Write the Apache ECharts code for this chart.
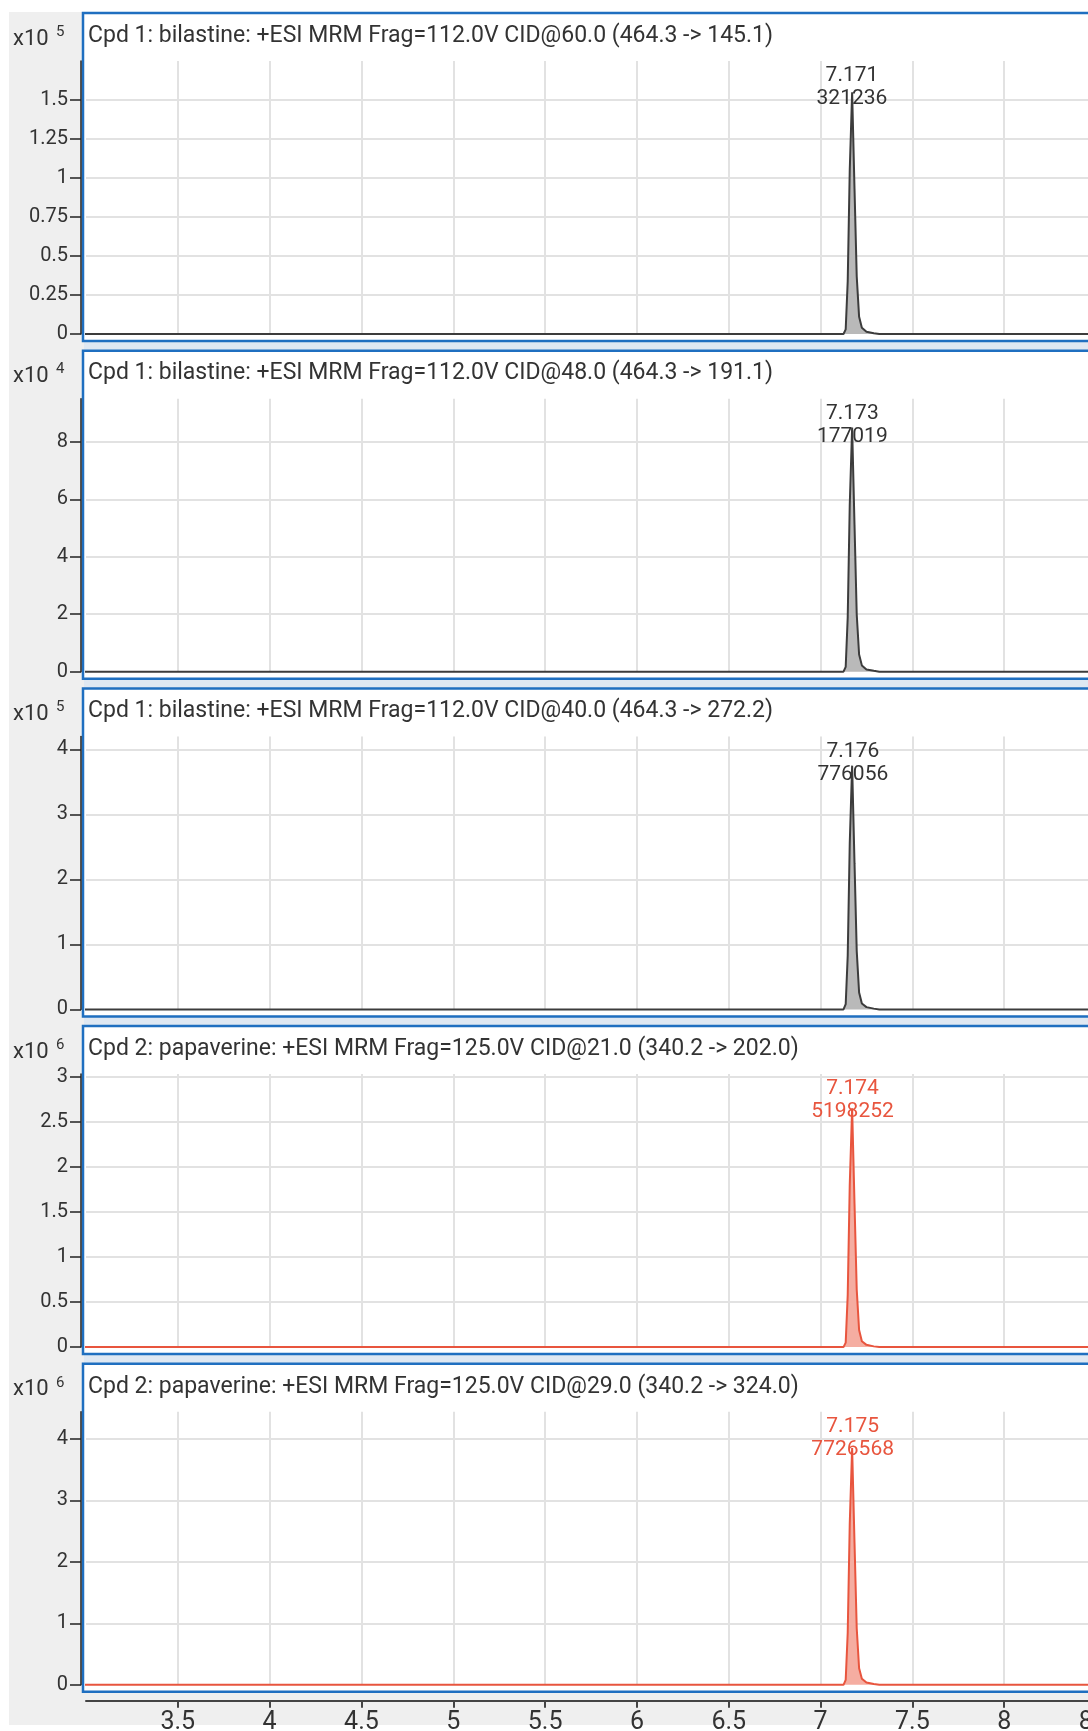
<!DOCTYPE html>
<html>
<head>
<meta charset="utf-8">
<script src="https://cdn.jsdelivr.net/npm/echarts@6/dist/echarts.min.js"></script>
<style>
html,body{margin:0;padding:0;background:#fff;}
#chart{width:1088px;height:1731px;}
</style>
</head>
<body>
<div id="chart"></div>
<script>
// ---- data ----
const rt = [2.985, 7.125, 7.137, 7.148, 7.159, 7.172, 7.185, 7.197, 7.21, 7.225, 7.25, 7.29, 7.32, 8.5];
const int1 = [0, 0, 0.03, 0.34, 1.05, 1.55, 0.93, 0.37, 0.11, 0.04, 0.015, 0.005, 0, 0];
const int2 = [0, 0, 0.17, 1.9, 5.8, 8.5, 5.1, 2.0, 0.6, 0.22, 0.08, 0.03, 0, 0];
const int3 = [0, 0, 0.08, 0.83, 2.55, 3.75, 2.25, 0.9, 0.26, 0.09, 0.035, 0.012, 0, 0];
const int4 = [0, 0, 0.05, 0.58, 1.8, 2.65, 1.59, 0.64, 0.19, 0.065, 0.025, 0.008, 0, 0];
const int5 = [0, 0, 0.08, 0.85, 2.62, 3.85, 2.31, 0.92, 0.27, 0.1, 0.036, 0.012, 0, 0];
const intensities = [int1, int2, int3, int4, int5];
const titles = [
  'Cpd 1: bilastine: +ESI MRM Frag=112.0V CID@60.0 (464.3 -> 145.1)',
  'Cpd 1: bilastine: +ESI MRM Frag=112.0V CID@48.0 (464.3 -> 191.1)',
  'Cpd 1: bilastine: +ESI MRM Frag=112.0V CID@40.0 (464.3 -> 272.2)',
  'Cpd 2: papaverine: +ESI MRM Frag=125.0V CID@21.0 (340.2 -> 202.0)',
  'Cpd 2: papaverine: +ESI MRM Frag=125.0V CID@29.0 (340.2 -> 324.0)'
];
const exponents = [5, 4, 5, 6, 6];
const peakRT = [7.171, 7.173, 7.176, 7.174, 7.175];
const peakRTLabel = ['7.171', '7.173', '7.176', '7.174', '7.175'];
const peakArea = ['321236', '177019', '776056', '5198252', '7726568'];
const compound = [1, 1, 1, 2, 2];
const yMax = [1.75, 9.5, 4.2, 3.03, 4.44];
const yStep = [0.25, 2, 1, 0.5, 1];
const xMin = 3, xMax = 8.5, xStep = 0.5;

// ---- layout / style ----
const FONT = 'Roboto';
const panelTop = i => 12 + i * 337.7;
const PANEL_H = 330;
const lineColor = {1: '#3c3c3c', 2: '#e8553e'};
const areaColor = {1: '#b9b9b9', 2: '#f5ada1'};
const labelColor = {1: '#333333', 2: '#e8553e'};

const grids = [], xAxes = [], yAxes = [], series = [], graphics = [];
graphics.push({type: 'rect', z: -100, shape: {x: 9, y: 12, width: 1079, height: 1713}, style: {fill: '#efefef'}});

for (let i = 0; i < 5; i++) {
  const T = panelTop(i);
  graphics.push({type: 'rect', z: -90, shape: {x: 83, y: T + 1, width: 1010, height: PANEL_H - 2},
    style: {fill: '#ffffff', stroke: '#1f6fc0', lineWidth: 2.5}});
  if (i < 4) {
    graphics.push({type: 'rect', z: -95, shape: {x: 84, y: T + PANEL_H, width: 1004, height: panelTop(i + 1) - T - PANEL_H},
      style: {fill: '#dfe8f2'}});
  }
  graphics.push({type: 'text', z: 100, x: 88, y: T + 24,
    style: {text: titles[i], font: '23px ' + FONT, fill: '#333', textVerticalAlign: 'middle'}});
  graphics.push({type: 'text', z: 100, x: 13, y: T + 27,
    style: {text: 'x10', font: '22px ' + FONT, fill: '#333', textVerticalAlign: 'middle'}});
  graphics.push({type: 'text', z: 100, x: 56, y: T + 20,
    style: {text: String(exponents[i]), font: '15px ' + FONT, fill: '#333', textVerticalAlign: 'middle'}});

  grids.push({left: 86, right: -8, top: T + 49, height: 273, outerBoundsMode: 'none', containLabel: false});
  const last = i === 4;
  xAxes.push({
    type: 'value', gridIndex: i, min: xMin, max: xMax, interval: xStep,
    axisLine: {show: last, onZero: false, lineStyle: {color: '#444', width: 2}},
    offset: last ? 16 : 0,
    axisTick: {show: last, length: 7, lineStyle: {color: '#444', width: 2}},
    axisLabel: {show: last, showMinLabel: false, hideOverlap: false, margin: 9, fontSize: 25, fontFamily: FONT, color: '#333'},
    splitLine: {show: true, showMinLine: false, showMaxLine: false, lineStyle: {color: '#e2e2e2', width: 2}}
  });
  yAxes.push({
    type: 'value', gridIndex: i, min: 0, max: yMax[i], interval: yStep[i], offset: 5,
    axisLine: {show: true, lineStyle: {color: '#222', width: 1.5}},
    axisTick: {show: true, length: 11, lineStyle: {color: '#222', width: 1.5}},
    axisLabel: {showMaxLabel: false, margin: 13, fontSize: 20, fontFamily: FONT, color: '#333'},
    splitLine: {show: true, showMaxLine: false, showMinLine: false, lineStyle: {color: '#e2e2e2', width: 2}}
  });
  const c = compound[i];
  series.push({
    type: 'line', xAxisIndex: i, yAxisIndex: i, showSymbol: false, clip: false, animation: false,
    data: rt.map((x, k) => [x, intensities[i][k]]),
    lineStyle: {color: lineColor[c], width: 2},
    itemStyle: {color: lineColor[c]},
    areaStyle: {color: areaColor[c], opacity: 1},
    markPoint: {
      symbol: 'circle', symbolSize: 1, itemStyle: {color: 'rgba(0,0,0,0)'},
      data: [{coord: [peakRT[i], yMax[i]]}],
      label: {show: true, position: 'bottom', distance: 3, color: labelColor[c], fontSize: 21, lineHeight: 23,
        fontFamily: FONT, formatter: peakRTLabel[i] + '\n' + peakArea[i]}
    }
  });
}

const chart = echarts.init(document.getElementById('chart'), null, {renderer: 'canvas'});
chart.setOption({
  animation: false,
  backgroundColor: '#ffffff',
  grid: grids, xAxis: xAxes, yAxis: yAxes, series: series, graphic: graphics
});
</script>
</body>
</html>
